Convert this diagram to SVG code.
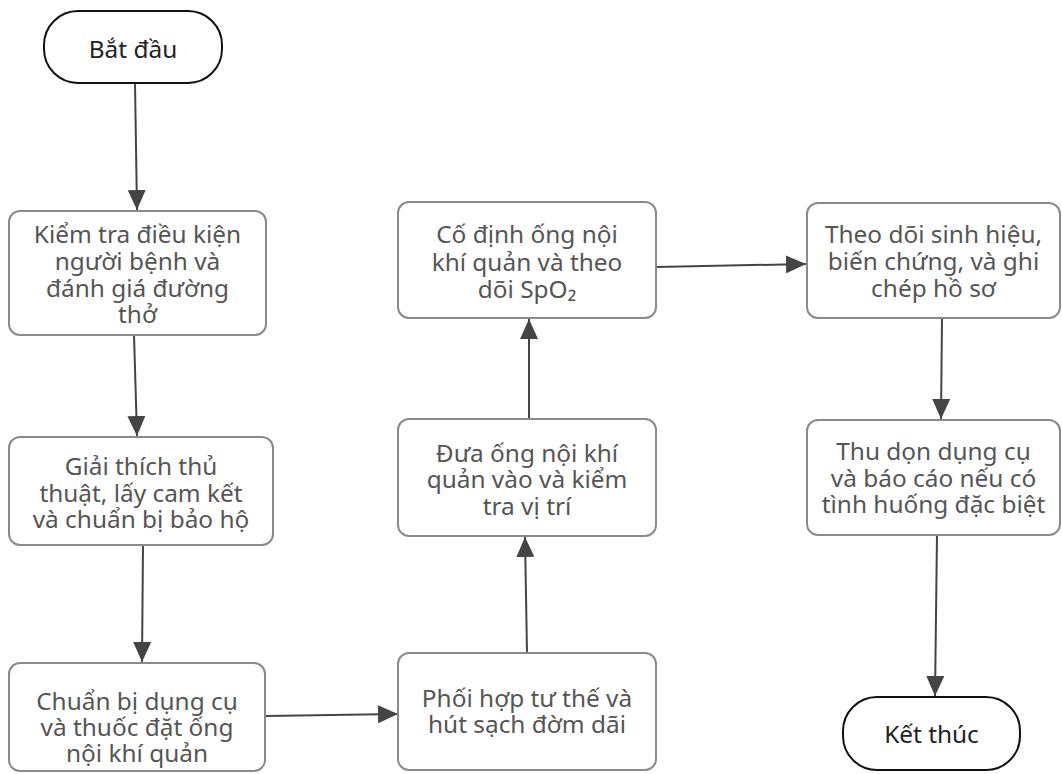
<svg xmlns="http://www.w3.org/2000/svg" width="1062" height="774" viewBox="0 0 1062 774">
  <style>
    .term { fill: #ffffff; stroke: #111111; stroke-width: 2; }
    .box { fill: #ffffff; stroke: #8a8a8a; stroke-width: 2; }
    .tt { font-family: "Noto Sans", "Open Sans", sans-serif; font-size: 24.4px; fill: #222222; text-anchor: middle; }
    .bt { font-family: "Noto Sans", "Open Sans", sans-serif; font-size: 24.4px; fill: #555555; text-anchor: middle; }
    .edge { fill: none; stroke: #444444; stroke-width: 2; marker-end: url(#arrow); }
  </style>
  <defs>
    <marker id="arrow" markerUnits="userSpaceOnUse" markerWidth="20" markerHeight="18" refX="20" refY="9" orient="auto">
      <path d="M0,0 L20,9 L0,18 z" fill="#444444"/>
    </marker>
  </defs>
  <rect width="1062" height="774" fill="#ffffff"/>

  <g id="connectors">
    <path class="edge" d="M135,83 L137,210"/>
    <path class="edge" d="M134,335 L137,436"/>
    <path class="edge" d="M143,545 L142,662"/>
    <path class="edge" d="M265,716 L398,714"/>
    <path class="edge" d="M527,653 L525,537"/>
    <path class="edge" d="M529,419 L529,319"/>
    <path class="edge" d="M656,267 L806,264"/>
    <path class="edge" d="M942,318 L941,419"/>
    <path class="edge" d="M937,535 L935,696"/>
  </g>

  <g id="start">
    <rect class="term" x="44" y="11" width="178" height="72" rx="34"/>
    <text class="tt" x="133" y="58">Bắt đầu</text>
  </g>

  <g id="check">
    <rect class="box" x="9" y="211" width="257" height="124" rx="11"/>
    <text class="bt" y="243"><tspan x="137.5">Kiểm tra điều kiện</tspan><tspan x="137.5" dy="27">người bệnh và</tspan><tspan x="137.5" dy="27">đánh giá đường</tspan><tspan x="137.5" dy="26">thở</tspan></text>
  </g>

  <g id="explain">
    <rect class="box" x="9" y="437" width="264" height="108" rx="11"/>
    <text class="bt" y="475"><tspan x="141">Giải thích thủ</tspan><tspan x="141" dy="27">thuật, lấy cam kết</tspan><tspan x="141" dy="26">và chuẩn bị bảo hộ</tspan></text>
  </g>

  <g id="prepare">
    <rect class="box" x="9" y="663" width="256" height="108" rx="11"/>
    <text class="bt" y="710"><tspan x="137">Chuẩn bị dụng cụ</tspan><tspan x="137" dy="26">và thuốc đặt ống</tspan><tspan x="137" dy="26">nội khí quản</tspan></text>
  </g>

  <g id="position">
    <rect class="box" x="398" y="653" width="258" height="117" rx="11"/>
    <text class="bt" y="707"><tspan x="527">Phối hợp tư thế và</tspan><tspan x="527" dy="26">hút sạch đờm dãi</tspan></text>
  </g>

  <g id="insert">
    <rect class="box" x="398" y="419" width="258" height="117" rx="11"/>
    <text class="bt" y="462"><tspan x="527">Đưa ống nội khí</tspan><tspan x="527" dy="26">quản vào và kiểm</tspan><tspan x="527" dy="27">tra vị trí</tspan></text>
  </g>

  <g id="secure">
    <rect class="box" x="398" y="202" width="258" height="116" rx="11"/>
    <text class="bt" y="243"><tspan x="527">Cố định ống nội</tspan><tspan x="527" dy="28">khí quản và theo</tspan><tspan x="527" dy="27">dõi SpO₂</tspan></text>
  </g>

  <g id="monitor">
    <rect class="box" x="807" y="203" width="253" height="115" rx="11"/>
    <text class="bt" y="243"><tspan x="933.5">Theo dõi sinh hiệu,</tspan><tspan x="933.5" dy="27">biến chứng, và ghi</tspan><tspan x="933.5" dy="27">chép hồ sơ</tspan></text>
  </g>

  <g id="cleanup">
    <rect class="box" x="807" y="420" width="253" height="115" rx="11"/>
    <text class="bt" y="460"><tspan x="933.5">Thu dọn dụng cụ</tspan><tspan x="933.5" dy="27">và báo cáo nếu có</tspan><tspan x="933.5" dy="26">tình huống đặc biệt</tspan></text>
  </g>

  <g id="end">
    <rect class="term" x="843" y="697" width="177" height="73" rx="34"/>
    <text class="tt" x="931.5" y="743">Kết thúc</text>
  </g>
</svg>
